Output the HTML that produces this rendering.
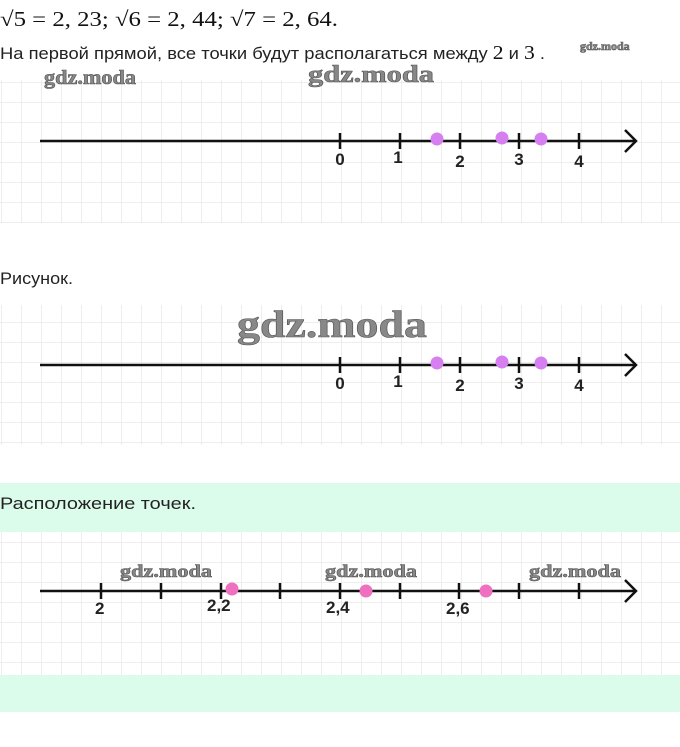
<!DOCTYPE html>
<html><head><meta charset="utf-8"><style>
html,body{margin:0;padding:0;background:#fff;width:680px;height:747px;overflow:hidden}
svg{display:block}
.t{font-family:"Liberation Sans",sans-serif;font-size:17px;fill:#222}
.m{font-family:"Liberation Serif",serif;fill:#111}
.n{font-family:"Liberation Sans",sans-serif;font-weight:bold;font-size:17px;fill:#222}
.w{font-family:"Liberation Serif",serif;font-weight:bold;fill:#888;stroke:#555;stroke-width:.6}
</style></head><body>
<svg width="680" height="747" viewBox="0 0 680 747" xmlns="http://www.w3.org/2000/svg">
<defs>
<pattern id="g" x="1" y="2" width="20" height="20" patternUnits="userSpaceOnUse">
<path d="M0 0V20M0 0H20" stroke="#e4e4e4" stroke-width="1.3" fill="none"/>
</pattern>
</defs>
<text class="m" x="0" y="26" font-size="21" textLength="338" lengthAdjust="spacingAndGlyphs">√5 = 2, 23;  √6 = 2, 44;  √7 = 2, 64.</text>
<text class="t" x="0" y="59" textLength="545" lengthAdjust="spacingAndGlyphs">На первой прямой, все точки будут располагаться между <tspan class="m" font-size="20">2</tspan> и <tspan class="m" font-size="20">3</tspan> .</text>
<text class="w" x="580" y="50" font-size="12" stroke-width="0" fill="#777">gdz.moda</text>

<rect x="0" y="80" width="680" height="143" fill="url(#g)"/>
<text class="w" x="44" y="84" font-size="20" textLength="92" lengthAdjust="spacingAndGlyphs">gdz.moda</text>
<text class="w" x="308" y="82" font-size="24" textLength="126" lengthAdjust="spacingAndGlyphs">gdz.moda</text>
<g stroke="#111" stroke-width="2.5" fill="none">
<line x1="40" y1="141" x2="636" y2="141"/>
<path d="M625 130L636 141L625 152"/>
<path d="M340 133V149M400 133V149M460 133V149M519 133V149M579 133V149"/>
</g>
<g fill="#d67ff0"><circle cx="437" cy="139" r="6.5"/><circle cx="502" cy="138" r="6.5"/><circle cx="541" cy="139" r="6.5"/></g>
<g class="n" text-anchor="middle"><text x="340" y="165">0</text><text x="398" y="163">1</text><text x="460" y="167">2</text><text x="519" y="165">3</text><text x="579" y="167">4</text></g>

<text class="t" x="0" y="284" textLength="73" lengthAdjust="spacingAndGlyphs">Рисунок.</text>

<rect x="0" y="305" width="680" height="140" fill="url(#g)"/>
<text class="w" x="237" y="337" font-size="38" textLength="190" lengthAdjust="spacingAndGlyphs" stroke-width="1">gdz.moda</text>
<g stroke="#111" stroke-width="2.5" fill="none">
<line x1="40" y1="365" x2="636" y2="365"/>
<path d="M625 354L636 365L625 376"/>
<path d="M340 357V373M400 357V373M460 357V373M519 357V373M579 357V373"/>
</g>
<g fill="#d67ff0"><circle cx="437" cy="363" r="6.5"/><circle cx="502" cy="362" r="6.5"/><circle cx="541" cy="363" r="6.5"/></g>
<g class="n" text-anchor="middle"><text x="340" y="389">0</text><text x="398" y="387">1</text><text x="460" y="391">2</text><text x="519" y="389">3</text><text x="579" y="391">4</text></g>

<rect x="0" y="483" width="680" height="229" fill="#dcfceb"/>
<text class="t" x="0" y="509" textLength="196" lengthAdjust="spacingAndGlyphs">Расположение точек.</text>
<rect x="0" y="532" width="680" height="143" fill="#fff"/>
<rect x="0" y="532" width="680" height="143" fill="url(#g)"/>
<g class="w" font-size="18" stroke-width=".3" fill="#777">
<text x="120" y="577" textLength="92" lengthAdjust="spacingAndGlyphs">gdz.moda</text>
<text x="325" y="577" textLength="92" lengthAdjust="spacingAndGlyphs">gdz.moda</text>
<text x="529" y="577" textLength="92" lengthAdjust="spacingAndGlyphs">gdz.moda</text>
</g>
<g stroke="#111" stroke-width="2.5" fill="none">
<line x1="40" y1="591" x2="636" y2="591"/>
<path d="M625 580L636 591L625 602"/>
<path d="M101 583V599M161 583V599M221 583V599M280 583V599M340 583V599M400 583V599M459 583V599M519 583V599M579 583V599"/>
</g>
<g fill="#ef6fc0"><circle cx="232" cy="589" r="6.5"/><circle cx="366" cy="591" r="6.5"/><circle cx="486" cy="591" r="6.5"/></g>
<g class="n"><text x="95" y="614">2</text><text x="207" y="611">2,2</text><text x="326" y="613">2,4</text><text x="446" y="614">2,6</text></g>
</svg>
</body></html>
